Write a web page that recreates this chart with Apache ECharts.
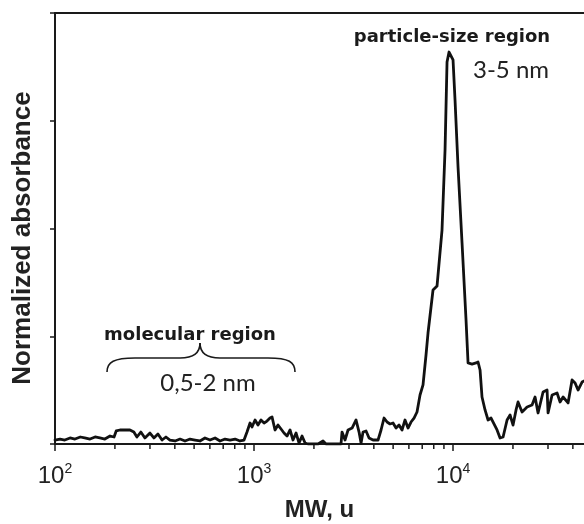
<!DOCTYPE html>
<html><head><meta charset="utf-8">
<script src="https://cdn.jsdelivr.net/npm/echarts@6/dist/echarts.min.js"></script>
<style>html,body{margin:0;padding:0;background:#fff}#c{width:584px;height:524px}</style>
</head><body><div id="c"></div>
<script>
// Molecular weight (u) of each sampled point of the trace
const mw = [100,106,112,119,126,134,141,150,159,168,178,189,198,203,212,225,238,249,258,270,283,300,314,329,345,361,378,401,425,450,477,505,535,567,601,637,675,715,758,803,850,891,922,955,977,1012,1047,1084,1123,1162,1203,1232,1275,1320,1367,1415,1465,1517,1570,1626,1684,1743,1805,1868,1957,2097,2222,2300,2553,2736,2768,2866,2968,3109,3256,3371,3450,3530,3655,3784,3963,4200,4348,4501,4660,4824,4995,5171,5353,5542,5738,5940,6150,6368,6592,6825,7066,7315,7486,7932,8309,8803,9116,9329,9548,9770,10000,10233,10595,11098,11622,11896,12458,13048,13354,13669,13982,14481,14996,15524,15885,16638,17229,17842,18686,19340,20025,20730,21210,22220,23550,24946,25830,26737,28340,29680,30020,31450,33320,34500,35720,37840,39630,41040,42480,44490,46600];
// Normalized absorbance (arbitrary units, axis ticks every 1)
const absorbance = [0.037,0.046,0.037,0.056,0.046,0.065,0.056,0.046,0.065,0.056,0.046,0.074,0.065,0.121,0.130,0.130,0.130,0.111,0.065,0.111,0.056,0.102,0.056,0.093,0.037,0.065,0.037,0.028,0.046,0.028,0.046,0.037,0.028,0.056,0.037,0.056,0.028,0.046,0.037,0.046,0.028,0.037,0.111,0.195,0.158,0.223,0.176,0.223,0.195,0.213,0.241,0.251,0.130,0.176,0.139,0.102,0.074,0.130,0.037,0.102,0.009,0.074,0.009,0,0,0,0.028,0,0,0,0.111,0.037,0.130,0.148,0.223,0.111,0.009,0.111,0.121,0.056,0.037,0.037,0.130,0.241,0.204,0.186,0.195,0.148,0.176,0.130,0.223,0.148,0.204,0.241,0.297,0.455,0.548,0.826,1.030,1.429,1.466,1.986,2.729,3.545,3.638,3.638,3.564,3.193,2.571,1.865,1.151,0.752,0.742,0.752,0.761,0.687,0.436,0.316,0.223,0.241,0.232,0.130,0.056,0.065,0.223,0.269,0.176,0.316,0.390,0.297,0.343,0.362,0.436,0.288,0.483,0.501,0.288,0.455,0.473,0.390,0.436,0.381,0.594,0.566,0.501,0.575,0.594];
// minor tick positions on the log axis
const minorTicks = [200,300,400,500,600,700,800,900,2000,3000,4000,5000,6000,7000,8000,9000,20000,30000,40000];
const xMin = 100, xMax = 45500;
const yTicks = [0,1,2,3,4];

const ink = '#1a1a1a';
const chart = echarts.init(document.getElementById('c'), null, {renderer:'canvas'});
const pts = mw.map((m,i)=>[m, absorbance[i]]);

function bez(x1,y1,cpx1,cpy1,cpx2,cpy2,x2,y2){
  return {type:'bezierCurve', shape:{x1:x1,y1:y1,cpx1:cpx1,cpy1:cpy1,cpx2:cpx2,cpy2:cpy2,x2:x2,y2:y2}, style:{fill:null, stroke:'#1a1a1a', lineWidth:1.6}};
}
function seg(x1,y1,x2,y2){
  return {type:'line', shape:{x1:x1,y1:y1,x2:x2,y2:y2}, style:{stroke:'#1a1a1a', lineWidth:1.6}};
}

chart.setOption({
  animation:false,
  backgroundColor:'#fff',
  grid:{left:55, right:0, top:13, bottom:80, containLabel:false, outerBoundsMode:'none'},
  xAxis:[{
    type:'log', logBase:10, min:xMin, max:xMax,
    axisLine:{show:true, onZero:false, lineStyle:{color:ink, width:2}},
    axisTick:{show:true, length:7, lineStyle:{color:ink, width:1.5}},
    splitLine:{show:false}, minorTick:{show:false},
    axisLabel:{show:true, margin:18, showMaxLabel:false,
      formatter:function(v){const e=Math.log10(v);const r=Math.round(e);if(Math.abs(e-r)>1e-6)return '';return '{b|10}{s|'+r+'}';},
      rich:{
        b:{fontSize:24, fontFamily:'Liberation Sans', color:'#222', lineHeight:26, verticalAlign:'bottom'},
        s:{fontSize:14, fontFamily:'Liberation Sans', color:'#222', lineHeight:14, verticalAlign:'top'}
      }},
    name:'MW, u', nameLocation:'middle', nameGap:54,
    nameTextStyle:{fontFamily:'Liberation Sans', fontWeight:'bold', fontSize:24, color:'#222'}
  },{
    type:'log', position:'top', min:xMin, max:xMax,
    axisLine:{show:true, onZero:false, lineStyle:{color:ink, width:2}},
    axisTick:{show:false}, axisLabel:{show:false}, splitLine:{show:false}
  }],
  yAxis:{
    type:'value', min:yTicks[0], max:yTicks[yTicks.length-1], interval:1,
    axisLine:{show:true, onZero:false, lineStyle:{color:ink, width:2}},
    axisTick:{show:true, length:5, lineStyle:{color:ink, width:1.5}},
    axisLabel:{show:false}, splitLine:{show:false}
  },
  series:[{
    type:'line', data:pts, showSymbol:false, smooth:false, clip:true,
    lineStyle:{color:'#111', width:2.8, join:'round', cap:'round'}, z:3
  },{
    type:'custom', coordinateSystem:'cartesian2d', xAxisIndex:0, yAxisIndex:0, silent:true, clip:false,
    data:minorTicks.map(v=>[v,0]),
    renderItem:function(params, api){
      const p = api.coord([api.value(0), 0]);
      return {type:'line', shape:{x1:p[0], y1:p[1], x2:p[0], y2:p[1]+5}, style:{stroke:ink, lineWidth:1.5}};
    }, z:2
  }],
  graphic:[
    {type:'text', x:23, y:238, rotation:Math.PI/2, style:{text:'Normalized absorbance', x:0, y:0, align:'center', verticalAlign:'middle', font:'bold 26px "Liberation Sans"', fill:'#222'}},
    {type:'text', style:{text:'particle-size region', x:452, y:37, align:'center', verticalAlign:'middle', font:'bold 18px "DejaVu Sans"', fill:'#1a1a1a'}},
    {type:'text', style:{text:'3-5 nm', x:511, y:70, align:'center', verticalAlign:'middle', font:'24px Lato', fill:'#222'}},
    {type:'text', style:{text:'molecular region', x:190, y:335, align:'center', verticalAlign:'middle', font:'bold 18px "DejaVu Sans"', fill:'#1a1a1a'}},
    {type:'text', style:{text:'0,5-2 nm', x:208, y:383, align:'center', verticalAlign:'middle', font:'24px Lato', fill:'#222'}},
    bez(107,372, 107,362, 114,358, 135,358),
    seg(135,358, 180,358),
    bez(180,358, 194,358, 200,353, 200,343),
    bez(200,343, 200,353, 206,358, 220,358),
    seg(220,358, 268,358),
    bez(268,358, 289,358, 295,362, 295,372)
  ]
});
</script>
</body></html>
